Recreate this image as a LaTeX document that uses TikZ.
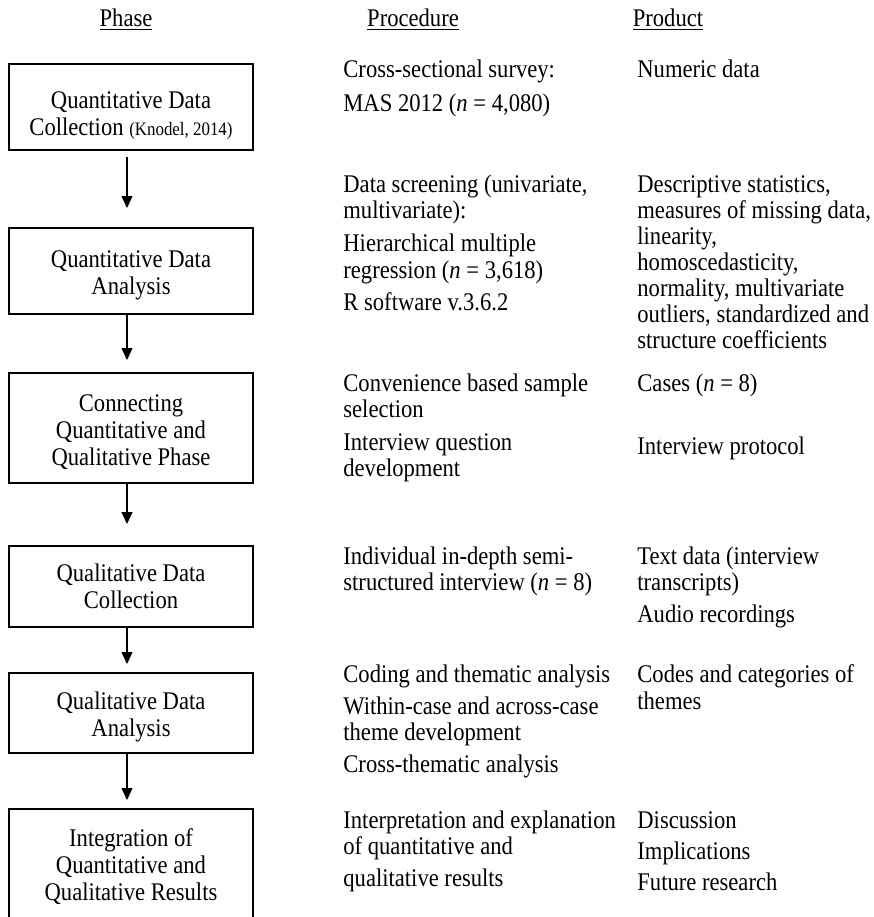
\documentclass[tikz,border=0pt]{standalone}
\usepackage{fontspec}
\setmainfont[FakeStretch=0.89]{Liberation Serif}
\usetikzlibrary{arrows.meta}
\newcommand{\mainsize}{\fontsize{12.7}{13}\selectfont}
\tikzset{
  phasebox/.style={draw=black, line width=1pt, minimum width=122pt, inner sep=0pt},
  boxtext/.style={inner sep=0pt, align=center, font=\fontsize{12.7}{13.5}\selectfont},
  txt/.style={anchor=base west, inner sep=0pt, font=\mainsize},
  hdr/.style={anchor=base, inner sep=0pt, font=\mainsize},
  flowarrow/.style={line width=0.6pt, -{Triangle[length=6pt,width=5.5pt]}}
}
\begin{document}
\begin{tikzpicture}[x=0.5pt, y=-0.5pt]
\useasboundingbox (0,0) rectangle (874,917);
\clip (0,0) rectangle (874,917);
% headers
\node[hdr] (h1) at (126,26) {\underline{Phase}};
\node[hdr] (h2) at (413,26) {\underline{Procedure}};
\node[hdr] (h3) at (668,26) {\underline{Product}};
% phase boxes
\node[phasebox, minimum height=43pt] (b1) at (131,107) {};
\node[phasebox, minimum height=43pt] (b2) at (131,271) {};
\node[phasebox, minimum height=55pt] (b3) at (131,428) {};
\node[phasebox, minimum height=40.5pt] (b4) at (131,586.5) {};
\node[phasebox, minimum height=40pt] (b5) at (131,713) {};
\node[phasebox, minimum height=57pt] (b6) at (131,866) {};
\node[boxtext] (b1t) at (131,116) {Quantitative Data\\Collection {\fontsize{9.5}{10}\selectfont (Knodel, 2014)}};
\node[boxtext] (b2t) at (131,275) {Quantitative Data\\Analysis};
\node[boxtext] (b3t) at (131,432) {Connecting\\Quantitative and\\Qualitative Phase};
\node[boxtext] (b4t) at (131,586) {Qualitative Data\\Collection};
\node[boxtext] (b5t) at (131,717) {Qualitative Data\\Analysis};
\node[boxtext] (b6t) at (131,867) {Integration of\\Quantitative and\\Qualitative Results};
% arrows
\coordinate (t1) at (127,208);
\coordinate (t2) at (127,360);
\coordinate (t3) at (127,524);
\coordinate (t4) at (127,664);
\coordinate (t5) at (127,800);
\draw[flowarrow] ([yshift=-3pt]b1.south -| t1) -- (t1);
\draw[flowarrow] (b2.south -| t2) -- (t2);
\draw[flowarrow] (b3.south -| t3) -- (t3);
\draw[flowarrow] (b4.south -| t4) -- (t4);
\draw[flowarrow] (b5.south -| t5) -- (t5);
% procedure column
\node[txt] (pa1) at (343,77) {Cross-sectional survey:};
\node[txt] (pa2) at (343,111) {MAS 2012 (\textit{n} = 4,080)};
\node[txt] (pb1) at (343,192) {Data screening (univariate,};
\node[txt] (pb2) at (343,218) {multivariate):};
\node[txt] (pb3) at (343,251) {Hierarchical multiple};
\node[txt] (pb4) at (343,278) {regression (\textit{n} = 3,618)};
\node[txt] (pb5) at (343,310) {R software v.3.6.2};
\node[txt] (pc1) at (343,391) {Convenience based sample};
\node[txt] (pc2) at (343,417) {selection};
\node[txt] (pc3) at (343,450) {Interview question};
\node[txt] (pc4) at (343,476) {development};
\node[txt] (pd1) at (343,564) {Individual in-depth semi-};
\node[txt] (pd2) at (343,590) {structured interview (\textit{n} = 8)};
\node[txt] (pe1) at (343,682) {Coding and thematic analysis};
\node[txt] (pe2) at (343,714) {Within-case and across-case};
\node[txt] (pe3) at (343,740) {theme development};
\node[txt] (pe4) at (343,772) {Cross-thematic analysis};
\node[txt] (pf1) at (343,828) {Interpretation and explanation};
\node[txt] (pf2) at (343,854) {of quantitative and};
\node[txt] (pf3) at (343,886) {qualitative results};
% product column
\node[txt] (qa1) at (637,77) {Numeric data};
\node[txt] (qb1) at (637,192) {Descriptive statistics,};
\node[txt] (qb2) at (637,218) {measures of missing data,};
\node[txt] (qb3) at (637,244) {linearity,};
\node[txt] (qb4) at (637,270) {homoscedasticity,};
\node[txt] (qb5) at (637,296) {normality, multivariate};
\node[txt] (qb6) at (637,322) {outliers, standardized and};
\node[txt] (qb7) at (637,348) {structure coefficients};
\node[txt] (qc1) at (637,391) {Cases (\textit{n} = 8)};
\node[txt] (qc2) at (637,454) {Interview protocol};
\node[txt] (qd1) at (637,564) {Text data (interview};
\node[txt] (qd2) at (637,590) {transcripts)};
\node[txt] (qd3) at (637,622) {Audio recordings};
\node[txt] (qe1) at (637,682) {Codes and categories of};
\node[txt] (qe2) at (637,709) {themes};
\node[txt] (qf1) at (637,828) {Discussion};
\node[txt] (qf2) at (637,859) {Implications};
\node[txt] (qf3) at (637,890) {Future research};
\end{tikzpicture}
\end{document}
